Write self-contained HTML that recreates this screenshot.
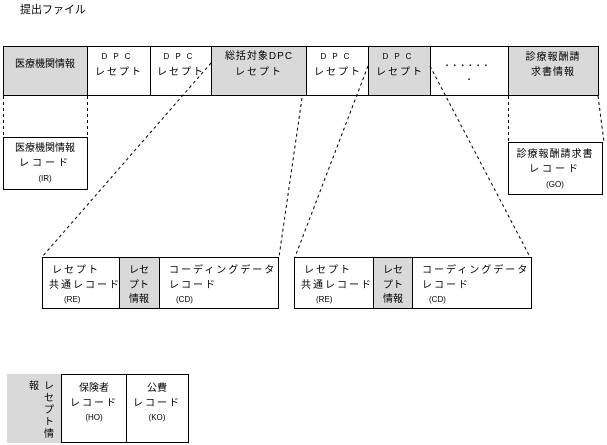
<!DOCTYPE html>
<html><head><meta charset="utf-8"><style>
body{margin:0;background:#fff;}
svg{display:block;font-family:"Liberation Sans","Noto Sans CJK JP",sans-serif;}
text{font-size:10px;fill:#000;}
.s{font-size:8px;}
</style></head><body>
<svg width="607" height="445" viewBox="0 0 607 445">
<text x="20" y="13" style="font-size:11px">提出ファイル</text>
<g stroke="#000" stroke-width="1">
<rect x="3.5" y="46.5" width="84" height="49" fill="#d9d9d9"/>
<rect x="87.5" y="46.5" width="63" height="49" fill="#fff"/>
<rect x="150.5" y="46.5" width="61" height="49" fill="#fff"/>
<rect x="211.5" y="46.5" width="95" height="49" fill="#d9d9d9"/>
<rect x="306.5" y="46.5" width="62" height="49" fill="#fff"/>
<rect x="368.5" y="46.5" width="62" height="49" fill="#d9d9d9"/>
<rect x="430.5" y="46.5" width="78" height="49" fill="#fff"/>
<rect x="508.5" y="46.5" width="90" height="49" fill="#d9d9d9"/>
</g>
<text x="45" y="67" text-anchor="middle">医療機関情報</text>
<text x="119" y="59" text-anchor="middle" class="s" letter-spacing="6">DPC</text>
<text x="119" y="75" text-anchor="middle" letter-spacing="2">レセプト</text>
<text x="181" y="59" text-anchor="middle" class="s" letter-spacing="6">DPC</text>
<text x="181" y="75" text-anchor="middle" letter-spacing="2">レセプト</text>
<text x="259" y="59" text-anchor="middle" letter-spacing="1">総括対象DPC</text>
<text x="259" y="75" text-anchor="middle" letter-spacing="2">レセプト</text>
<text x="338" y="59" text-anchor="middle" class="s" letter-spacing="6">DPC</text>
<text x="338" y="75" text-anchor="middle" letter-spacing="2">レセプト</text>
<text x="400" y="59" text-anchor="middle" class="s" letter-spacing="6">DPC</text>
<text x="400" y="75" text-anchor="middle" letter-spacing="2">レセプト</text>
<text x="469" y="66" text-anchor="middle" letter-spacing="5" style="font-weight:bold">......</text>
<text x="469" y="80" text-anchor="middle" style="font-weight:bold">.</text>
<text x="553" y="60" text-anchor="middle" letter-spacing="1">診療報酬請</text>
<text x="553" y="75" text-anchor="middle" letter-spacing="1">求書情報</text>
<g stroke="#000" stroke-width="1" stroke-dasharray="3,3" fill="none">
<line x1="3.5" y1="96" x2="3.5" y2="137"/>
<line x1="87.5" y1="96" x2="87.5" y2="137"/>
<line x1="508.5" y1="96" x2="508.5" y2="142"/>
<line x1="598" y1="96" x2="604" y2="142"/>
<line x1="211" y1="63" x2="42" y2="257"/>
<line x1="302" y1="98" x2="279" y2="257"/>
<line x1="368" y1="66" x2="295" y2="257"/>
<line x1="430" y1="66" x2="530" y2="257"/>
</g>
<rect x="3.5" y="137.5" width="84" height="52" fill="#fff" stroke="#000"/>
<text x="45" y="151" text-anchor="middle">医療機関情報</text>
<text x="45" y="166" text-anchor="middle" letter-spacing="3">レコード</text>
<text x="45" y="181" text-anchor="middle" class="s">(IR)</text>
<rect x="508.5" y="142.5" width="94" height="52" fill="#fff" stroke="#000"/>
<text x="555" y="157" text-anchor="middle" letter-spacing="1">診療報酬請求書</text>
<text x="555" y="172" text-anchor="middle" letter-spacing="3">レコード</text>
<text x="555" y="187" text-anchor="middle" class="s">(GO)</text>
<g stroke="#000">
<rect x="42.5" y="257.5" width="236" height="51" fill="#fff"/>
<rect x="119.5" y="257.5" width="40" height="51" fill="#d9d9d9"/>
<rect x="294.5" y="257.5" width="237" height="51" fill="#fff"/>
<rect x="373.5" y="257.5" width="39" height="51" fill="#d9d9d9"/>
</g>
<g>
<text x="52" y="273" letter-spacing="2">レセプト</text>
<text x="49" y="288" letter-spacing="2">共通レコード</text>
<text x="64" y="302" class="s">(RE)</text>
<text x="139" y="273" text-anchor="middle">レセ</text>
<text x="139" y="288" text-anchor="middle">プト</text>
<text x="139" y="302" text-anchor="middle">情報</text>
<text x="169" y="273" letter-spacing="2">コーディングデータ</text>
<text x="169" y="288" letter-spacing="2">レコード</text>
<text x="176" y="302" class="s">(CD)</text>
</g>
<g>
<text x="304" y="273" letter-spacing="2">レセプト</text>
<text x="301" y="288" letter-spacing="2">共通レコード</text>
<text x="316" y="302" class="s">(RE)</text>
<text x="393" y="273" text-anchor="middle">レセ</text>
<text x="393" y="288" text-anchor="middle">プト</text>
<text x="393" y="302" text-anchor="middle">情報</text>
<text x="422" y="273" letter-spacing="2">コーディングデータ</text>
<text x="422" y="288" letter-spacing="2">レコード</text>
<text x="429" y="302" class="s">(CD)</text>
</g>
<rect x="7" y="374" width="54" height="69" fill="#d9d9d9"/>
<g stroke="#000"><rect x="61.5" y="374.5" width="65" height="68" fill="#fff"/>
<rect x="126.5" y="374.5" width="62" height="68" fill="#fff"/></g>
<text x="29" y="389">報</text>
<text x="44" y="389">レ</text>
<text x="44" y="401">セ</text>
<text x="44" y="413">プ</text>
<text x="44" y="425">ト</text>
<text x="44" y="437">情</text>
<text x="94" y="391" text-anchor="middle">保険者</text>
<text x="94" y="406" text-anchor="middle" letter-spacing="2">レコード</text>
<text x="94" y="420" text-anchor="middle" class="s">(HO)</text>
<text x="157" y="391" text-anchor="middle">公費</text>
<text x="157" y="406" text-anchor="middle" letter-spacing="2">レコード</text>
<text x="157" y="420" text-anchor="middle" class="s">(KO)</text>
</svg>
</body></html>
